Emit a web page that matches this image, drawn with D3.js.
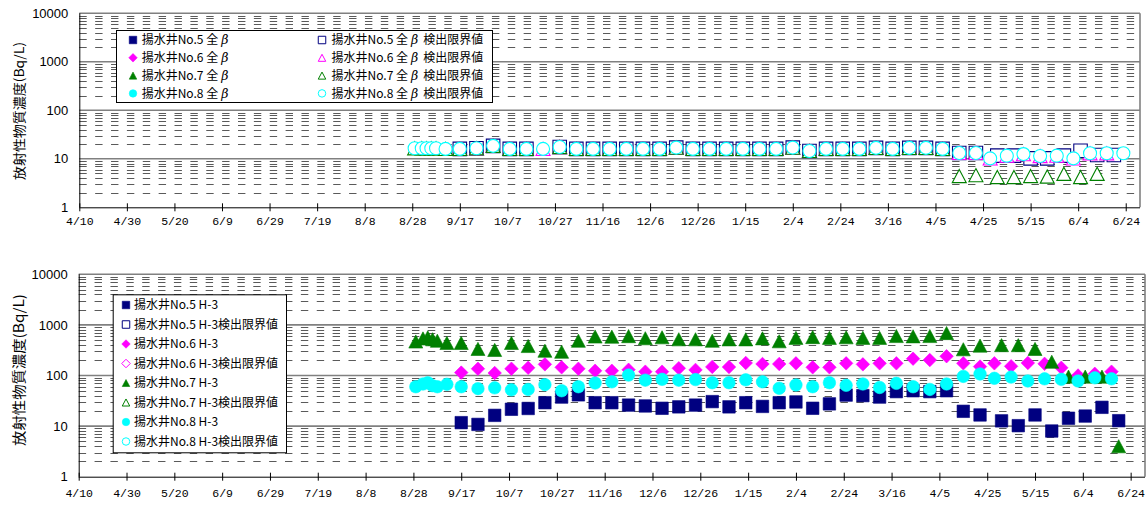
<!DOCTYPE html>
<html><head><meta charset="utf-8">
<script src="https://cdn.jsdelivr.net/npm/d3@7"></script>
<style>body{margin:0;background:#fff}svg{display:block}</style>
</head><body>
<svg id="c" width="1146" height="507"></svg>
<script>
// ---------------- DATA ----------------
const tickDates = ["2013-04-10","2013-04-30","2013-05-20","2013-06-09","2013-06-29","2013-07-19","2013-08-08","2013-08-28","2013-09-17","2013-10-07","2013-10-27","2013-11-16","2013-12-06","2013-12-26","2014-01-15","2014-02-04","2014-02-24","2014-03-16","2014-04-05","2014-04-25","2014-05-15","2014-06-04","2014-06-24"];
const tickLabels = ["4/10","4/30","5/20","6/9","6/29","7/19","8/8","8/28","9/17","10/7","10/27","11/16","12/6","12/26","1/15","2/4","2/24","3/16","4/5","4/25","5/15","6/4","6/24"];
const yTicks = [1, 10, 100, 1000, 10000];

const clusterDates = ["2013-08-29","2013-09-01","2013-09-03","2013-09-05","2013-09-07","2013-09-11"];
const weeklyDates = ["2013-09-17","2013-09-24","2013-10-01","2013-10-08","2013-10-15","2013-10-22","2013-10-29","2013-11-05","2013-11-12","2013-11-19","2013-11-26","2013-12-03","2013-12-10","2013-12-17","2013-12-24","2013-12-31","2014-01-07","2014-01-14","2014-01-21","2014-01-28","2014-02-04","2014-02-11","2014-02-18","2014-02-25","2014-03-04","2014-03-11","2014-03-18","2014-03-25","2014-04-01","2014-04-08","2014-04-15"];
const lateDatesA = ["2014-04-22","2014-05-01","2014-05-08","2014-05-15","2014-05-22","2014-05-29","2014-06-05","2014-06-12","2014-06-19"];
const lateDatesB = ["2014-04-22","2014-04-28","2014-05-05","2014-05-12","2014-05-19","2014-05-26","2014-06-02","2014-06-09","2014-06-16"];
const lateDatesBetaNo8 = ["2014-04-22","2014-04-28","2014-05-05","2014-05-12","2014-05-19","2014-05-26","2014-06-02","2014-06-09","2014-06-16","2014-06-23"];

// H-3 (Bq/L)
const h3No5Weekly = [11.7,10.8,16.3,21.5,22.3,29,37.5,41.5,29,29,26,25,22.5,24,26,30.5,24,29,24.5,29,30,22.5,27.5,41,40,37.5,48,50,48,50,19.6];
const h3No5Late = [16.6,12.7,10.2,16.6,8.0,14.3,15.8,23.5,12.8];
const h3No6Weekly = [114,136,112,136,142,166,145,136,124,124,130,119,119,139,129,148,147,177,169,169,174,145,145,174,166,174,174,215,202,240,174];
const h3No6Late = [150,174,152,177,170,142,100,108,119];
const h3No7Cluster = [470,540,569,520,487,440];
const h3No7Weekly = [440,335,320,440,383,309,295,487,590,585,600,545,569,520,520,487,519,519,543,475,555,575,555,569,555,555,603,595,603,690,330];
const h3No7Late = [390,398,398,335,187,95,95,95,4.0];
const h3No8Cluster = [60,68,72,63,60,67];
const h3No8Weekly = [60,55,57,52,53,66,50,60,71,75,102,81,84,81,83,72,72,82,75,56,65,60,72,64,68,58,70,60,53,68,96];
const h3No8Late = [107,88,93,78,86,84,78,90,86];
// H-3 detection limits: none plotted
const h3DLNo5 = [], h3DLNo6 = [], h3DLNo7 = [], h3DLNo8 = [];

// gross beta: no detected values plotted; detection limits (Bq/L)
const betaNo5 = [], betaNo6 = [], betaNo7 = [], betaNo8 = [];
const betaDLNo5Weekly = [16,16.5,18.5,16,16,null,17.5,16,16,16,16,16,16,17,16,16,16,16,16,16,17,14.5,16,16,16,16.8,16,16.8,16.8,16,13.2];
const betaDLNo5Late = [13.2,11.6,11.6,10.2,10.2,11.6,14.7,12,12];
const betaDLNo6Weekly = [16,16.5,18.5,16,16,16,17.5,16,16,16,16,16,16,17,16,16,16,16,16,16,17,14.5,16,16,16,16.8,16,16.8,16.8,16,13.2];
const betaDLNo6Late = [13.2,10.2,11.6,12.5,11.4,11.6,10.2,13,13];
const betaDLNo7Cluster = [16.5,16.5,16.5,16.5,16.5,16];
const betaDLNo7Weekly = [16,16.5,18.5,16,16,null,17.5,16,16,16,16,16,16,17,16,16,16,16,16,16,17,14.5,16,16,16,16.8,16,16.8,16.8,16,4.4];
const betaDLNo7Late = [4.6,4.2,4.2,4.4,4.3,4.9,4.2,4.9,null];
const betaDLNo8Cluster = [16.5,16.5,16.5,16.5,16.5,16];
const betaDLNo8Weekly = [16,16.5,18.5,16,16,16,17.5,16,16,16,16,16,16,17,16,16,16,16,16,16,17,14.5,16,16,16,16.8,16,16.8,16.8,16,13.2];
const betaDLNo8Late = [13.2,10.2,11.6,12.5,11.4,11.6,10.2,13,13,13];

const betaLegend = ["揚水井No.5 全β","揚水井No.5 全β 検出限界値","揚水井No.6 全β","揚水井No.6 全β 検出限界値","揚水井No.7 全β","揚水井No.7 全β 検出限界値","揚水井No.8 全β","揚水井No.8 全β 検出限界値"];
const h3Legend = ["揚水井No.5 H-3","揚水井No.5 H-3検出限界値","揚水井No.6 H-3","揚水井No.6 H-3検出限界値","揚水井No.7 H-3","揚水井No.7 H-3検出限界値","揚水井No.8 H-3","揚水井No.8 H-3検出限界値"];
const yTitle = "放射性物質濃度(Bq/L)";

// ---------------- HELPERS ----------------
const parse = d3.timeParse("%Y-%m-%d");
const zip = (dates, vals) => dates.map((d, i) => ({date: parse(d), v: vals[i]})).filter(p => p.v != null);

const NAVY = "#000080", MAG = "#ff00ff", GRN = "#008000", CYN = "#00ffff";
const shapePath = {
  square: s => `M${-s/2},${-s/2}h${s}v${s}h${-s}Z`,
  diamond: s => `M0,${-s/2}L${s/2},0L0,${s/2}L${-s/2},0Z`,
  triangle: s => `M0,${-s*0.47}L${s/2},${s*0.47}L${-s/2},${s*0.47}Z`,
  circle: s => `M${s/2},0A${s/2},${s/2},0,1,1,${-s/2},0A${s/2},${s/2},0,1,1,${s/2},0Z`
};
function styleOf(color, open) {
  return open ? {fill: "#fff", stroke: color, sw: 1.1} : {fill: color, stroke: color, sw: 0.6};
}

const svg = d3.select("#c");
const FONT_JP = "'Noto Sans CJK JP', sans-serif";

function legendText(sel, label) {
  const parts = label.split("β");
  sel.append("tspan").text(parts[0]);
  if (parts.length > 1) {
    sel.append("tspan").attr("dx", 3).attr("font-family", "'DejaVu Serif', serif")
      .attr("font-style", "italic").attr("font-size", 12.5).text("β");
    if (parts[1].trim()) sel.append("tspan").attr("dx", 5).text(parts[1].trim());
  }
}

function drawPanel(p) {
  const x = d3.scaleTime().domain([parse("2013-04-10"), parse("2014-06-30")]).range([p.x0, p.x1]);
  const y = d3.scaleLog().domain([1, 10000]).range([p.y1, p.y0]);
  const g = svg.append("g");

  const minors = [];
  [1, 10, 100, 1000].forEach(d => { for (let m = 2; m <= 9; m++) minors.push(d * m); });
  g.selectAll("line.minor").data(minors).join("line")
    .attr("x1", p.x0).attr("x2", p.x1)
    .attr("y1", d => Math.round(y(d)) + 0.5).attr("y2", d => Math.round(y(d)) + 0.5)
    .attr("stroke", "#5a5a5a").attr("stroke-width", 1.2)
    .attr("stroke-dasharray", "7.4,8.47");
  g.selectAll("line.major").data([10, 100, 1000, 10000]).join("line")
    .attr("x1", p.x0).attr("x2", p.x1)
    .attr("y1", d => y(d)).attr("y2", d => y(d))
    .attr("stroke", "#808080").attr("stroke-width", 1.6);
  g.append("line").attr("x1", p.x1).attr("x2", p.x1).attr("y1", p.y0).attr("y2", p.y1)
    .attr("stroke", "#808080").attr("stroke-width", 1.6);

  p.series.forEach(s => {
    const st = styleOf(s.color, s.open);
    g.append("g").selectAll("path").data(s.data).join("path")
      .attr("transform", d => `translate(${x(d.date)},${y(d.v)})`)
      .attr("d", shapePath[s.shape](s.size))
      .attr("fill", st.fill).attr("stroke", st.stroke).attr("stroke-width", st.sw);
  });

  // x axis
  const xa = g.append("g").attr("transform", `translate(0,${p.y1})`)
    .call(d3.axisBottom(x).tickValues(tickDates.map(parse)).tickFormat((d, i) => tickLabels[i]).tickSizeOuter(0));
  xa.select(".domain").attr("stroke", "#000").attr("d", `M${p.x0},0.5H${p.x1}`);
  xa.selectAll(".tick line").attr("y1", -4).attr("y2", 4).attr("stroke", "#000");
  xa.selectAll(".tick text").attr("y", p.labelDy).attr("dy", "0.35em")
    .attr("font-family", "'Liberation Mono', monospace").attr("font-size", 11.5).attr("fill", "#000");
  // y axis
  const ya = g.append("g").attr("transform", `translate(${p.x0},0)`)
    .call(d3.axisLeft(y).tickValues(yTicks).tickFormat(d3.format("d")).tickSize(0).tickPadding(11));
  ya.select(".domain").attr("stroke", "#000").attr("d", `M0.5,${p.y0}V${p.y1}`);
  ya.selectAll(".tick text").attr("font-family", "'Liberation Sans', Arial, sans-serif").attr("font-size", 13).attr("fill", "#000");

  svg.append("text").attr("transform", `translate(${p.titleX},${p.titleY}) rotate(-90)`)
    .attr("text-anchor", "middle").attr("dy", "0.35em")
    .attr("font-family", FONT_JP).attr("font-size", p.titleSize)
    .attr("textLength", p.titleLen).attr("lengthAdjust", "spacingAndGlyphs")
    .text(yTitle);

  // legend
  const L = p.legend;
  const lg = svg.append("g");
  lg.append("rect").attr("x", L.x + 0.5).attr("y", L.y + 0.5).attr("width", L.w).attr("height", L.h)
    .attr("fill", "#fff").attr("stroke", "#000").attr("stroke-width", 1);
  p.series.forEach((s, i) => {
    const pos = L.pos(i);
    const st = styleOf(s.color, s.open);
    lg.append("path").attr("transform", `translate(${pos.mx},${pos.y})`)
      .attr("d", shapePath[s.shape](s.shape === "diamond" ? 8.5 : 7.5))
      .attr("fill", st.fill).attr("stroke", st.stroke).attr("stroke-width", s.open ? 1 : 0.6);
    const t = lg.append("text").attr("x", pos.tx).attr("y", pos.y).attr("dy", "0.36em")
      .attr("font-family", FONT_JP).attr("font-size", L.fs).attr("fill", "#000");
    legendText(t, L.labels[i]);
  });
}

// ---------------- TOP PANEL (gross beta) ----------------
drawPanel({
  x0: 79.3, x1: 1140, y0: 13.3, y1: 207.3, labelDy: 14,
  titleX: 19, titleY: 111, titleSize: 13, titleLen: 138,
  series: [
    {shape: "square", color: NAVY, open: false, size: 12.5, data: zip(weeklyDates, betaNo5)},
    {shape: "square", color: NAVY, open: true, size: 13.5, data: zip(weeklyDates.concat(lateDatesA), betaDLNo5Weekly.concat(betaDLNo5Late))},
    {shape: "diamond", color: MAG, open: false, size: 13.5, data: zip(weeklyDates, betaNo6)},
    {shape: "triangle", color: MAG, open: true, size: 14, data: zip(weeklyDates.concat(lateDatesB), betaDLNo6Weekly.concat(betaDLNo6Late))},
    {shape: "triangle", color: GRN, open: false, size: 14, data: zip(weeklyDates, betaNo7)},
    {shape: "triangle", color: GRN, open: true, size: 14, data: zip(clusterDates.concat(weeklyDates, lateDatesA), betaDLNo7Cluster.concat(betaDLNo7Weekly, betaDLNo7Late))},
    {shape: "circle", color: CYN, open: false, size: 12.5, data: zip(weeklyDates, betaNo8)},
    {shape: "circle", color: CYN, open: true, size: 13, data: zip(clusterDates.concat(weeklyDates, lateDatesBetaNo8), betaDLNo8Cluster.concat(betaDLNo8Weekly, betaDLNo8Late))}
  ],
  legend: {x: 116, y: 30, w: 376, h: 72, fs: 12, labels: betaLegend,
    pos: i => ({mx: i % 2 ? 322 : 133, tx: i % 2 ? 331.5 : 141.7, y: 40 + Math.floor(i / 2) * 17.8})}
});

// ---------------- BOTTOM PANEL (H-3) ----------------
drawPanel({
  x0: 78.7, x1: 1145, y0: 274.3, y1: 476.7, labelDy: 16.5,
  titleX: 19, titleY: 370, titleSize: 14, titleLen: 152,
  series: [
    {shape: "square", color: NAVY, open: false, size: 12.5, data: zip(weeklyDates.concat(lateDatesA), h3No5Weekly.concat(h3No5Late))},
    {shape: "square", color: NAVY, open: true, size: 12.5, data: zip(weeklyDates, h3DLNo5)},
    {shape: "diamond", color: MAG, open: false, size: 13.5, data: zip(weeklyDates.concat(lateDatesB), h3No6Weekly.concat(h3No6Late))},
    {shape: "diamond", color: MAG, open: true, size: 13.5, data: zip(weeklyDates, h3DLNo6)},
    {shape: "triangle", color: GRN, open: false, size: 14, data: zip(clusterDates.concat(weeklyDates, lateDatesA), h3No7Cluster.concat(h3No7Weekly, h3No7Late))},
    {shape: "triangle", color: GRN, open: true, size: 14, data: zip(weeklyDates, h3DLNo7)},
    {shape: "circle", color: CYN, open: false, size: 12.5, data: zip(clusterDates.concat(weeklyDates, lateDatesB), h3No8Cluster.concat(h3No8Weekly, h3No8Late))},
    {shape: "circle", color: CYN, open: true, size: 12.5, data: zip(weeklyDates, h3DLNo8)}
  ],
  legend: {x: 112.7, y: 294.3, w: 173.3, h: 158, fs: 12, labels: h3Legend,
    pos: i => ({mx: 126, tx: 134, y: 305 + i * 19.5})}
});
</script>
</body></html>
